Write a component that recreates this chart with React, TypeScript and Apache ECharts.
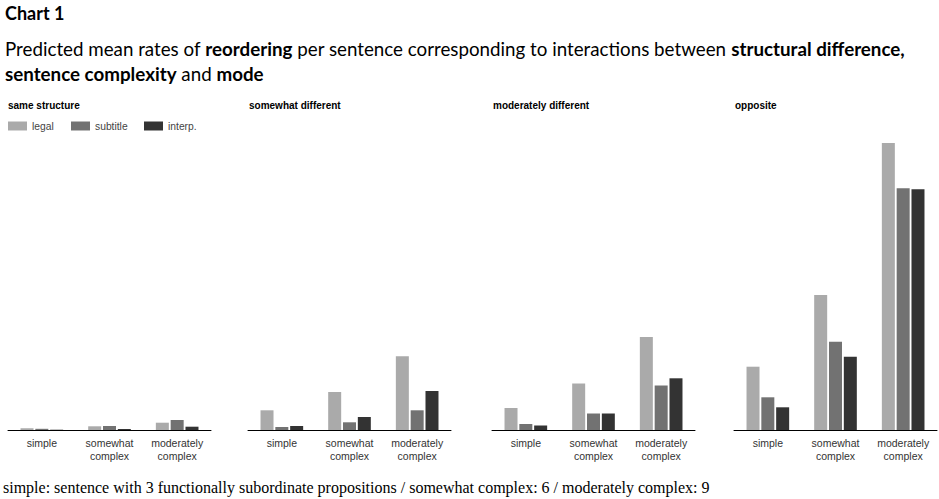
import React, { useEffect, useRef } from "react";
import * as echarts from "echarts";

const complexity = ["simple", "somewhat\ncomplex", "moderately\ncomplex"];
const modes = ["legal", "subtitle", "interp."];
const panels = ["same structure", "somewhat different", "moderately different", "opposite"];
const modeColors = ["#aaaaaa", "#727272", "#333333"];

// predicted mean rates, per panel: [simple, somewhat, moderately]
const sameLegal = [0.017, 0.037, 0.073];
const sameSubtitle = [0.012, 0.04, 0.1];
const sameInterp = [0.003, 0.01, 0.033];
const someLegal = [0.197, 0.38, 0.737];
const someSubtitle = [0.03, 0.077, 0.197];
const someInterp = [0.04, 0.13, 0.39];
const modLegal = [0.22, 0.465, 0.93];
const modSubtitle = [0.06, 0.165, 0.445];
const modInterp = [0.045, 0.165, 0.517];
const oppLegal = [0.633, 1.35, 2.87];
const oppSubtitle = [0.327, 0.883, 2.417];
const oppInterp = [0.227, 0.733, 2.407];

const panelData = [
  [sameLegal, sameSubtitle, sameInterp],
  [someLegal, someSubtitle, someInterp],
  [modLegal, modSubtitle, modInterp],
  [oppLegal, oppSubtitle, oppInterp],
];

const gridLefts = [8, 248, 492, 734];
const gridWidth = 203;

export default function App() {
  const ref = useRef<HTMLDivElement>(null);
  useEffect(() => {
    if (!ref.current) return;
    const chart = echarts.init(ref.current, undefined, { renderer: "svg" });
    const grids = gridLefts.map((l) => ({ left: l, width: gridWidth, top: 100, bottom: 69, containLabel: false }));
    const xAxes = gridLefts.map((_, i) => ({
      type: "category",
      gridIndex: i,
      data: complexity,
      axisLine: { show: true, lineStyle: { color: "#000", width: 1 } },
      axisTick: { show: false },
      axisLabel: { color: "#333", fontSize: 10.5, fontFamily: "Liberation Sans, Arial", lineHeight: 12.5, margin: 7 },
    }));
    const yAxes = gridLefts.map((_, i) => ({
      type: "value",
      gridIndex: i,
      min: 0,
      max: 3.3,
      show: false,
      splitLine: { show: false },
    }));
    const series: any[] = [];
    panelData.forEach((pd, i) => {
      pd.forEach((vals, m) => {
        series.push({
          type: "bar",
          name: modes[m],
          xAxisIndex: i,
          yAxisIndex: i,
          data: vals,
          barWidth: 13,
          barGap: "14%",
          itemStyle: { color: modeColors[m] },
        });
      });
    });
    const legendLefts = [8, 71, 144];
    const legends = modes.map((m, k) => ({
      data: [m],
      left: legendLefts[k],
      top: 121,
      itemWidth: 19,
      itemHeight: 9,
      itemStyle: { borderWidth: 0 },
      padding: 0,
      textStyle: { fontSize: 10.3, color: "#444", fontFamily: "Liberation Sans, Arial", padding: [0, 0, 0, 0] },
      icon: "rect",
      selectedMode: false,
    }));
    const panelTitles = panels.map((p, i) => ({
      text: p,
      left: gridLefts[i] + (i === 0 ? 0 : 1),
      top: 100,
      padding: 0,
      textStyle: { fontSize: 10, fontWeight: "bold", color: "#000", fontFamily: "Liberation Sans, Arial" },
    }));
    const f = "Lato, Open Sans, sans-serif";
    const n = { fontSize: 18.75, fontFamily: f, color: "#000", fontWeight: "normal" };
    const b = { fontSize: 18.75, fontFamily: f, color: "#000", fontWeight: "bold" };
    chart.setOption({
      animation: false,
      grid: grids,
      xAxis: xAxes,
      yAxis: yAxes,
      series,
      legend: legends,
      title: [
        {
          text: "Chart 1",
          left: 5,
          top: 4,
          padding: 0,
          textStyle: { fontSize: 18, fontWeight: "bold", fontFamily: f, color: "#000" },
        },
        {
          text: "{n|Predicted mean rates of }{b|reordering}{n| per sentence corresponding to interactions between }{b|structural difference,}",
          left: 5,
          top: 39,
          padding: 0,
          textStyle: { rich: { n, b } },
        },
        {
          text: "{b|sentence complexity}{n| and }{b|mode}",
          left: 5,
          top: 64,
          padding: 0,
          textStyle: { rich: { n, b } },
        },
        ...panelTitles,
        {
          text: "simple: sentence with 3 functionally subordinate propositions / somewhat complex: 6 / moderately complex: 9",
          left: 3,
          top: 479,
          padding: 0,
          textStyle: { fontSize: 16, fontWeight: "normal", fontFamily: "Liberation Serif, Times New Roman, serif", color: "#000" },
        },
      ],
    });
    return () => chart.dispose();
  }, []);
  return <div ref={ref} style={{ width: 939, height: 499, position: "absolute", left: 0, top: 0, background: "#fff" }} />;
}
